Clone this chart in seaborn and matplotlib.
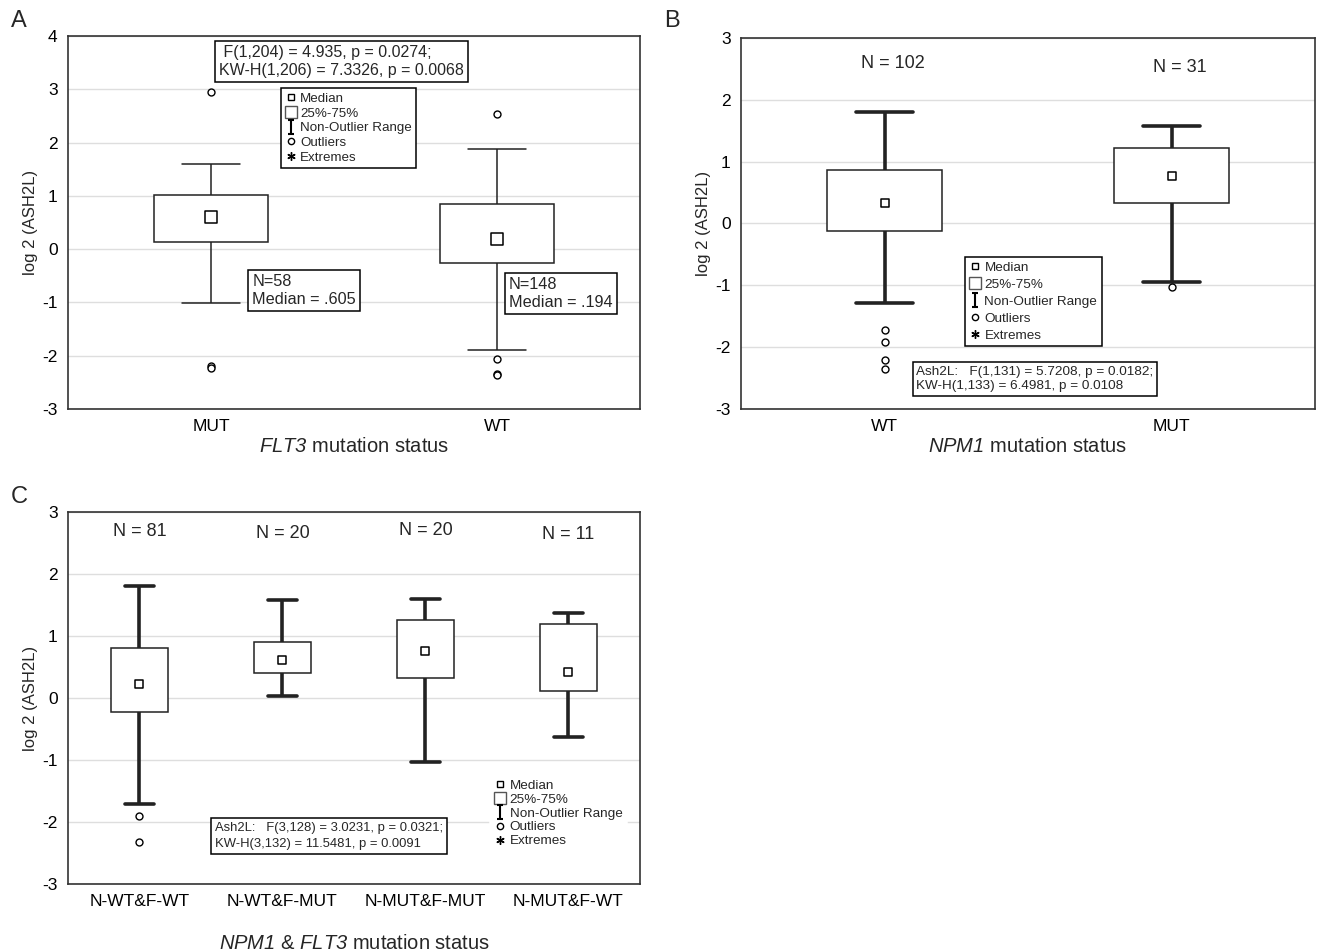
import matplotlib
matplotlib.use("Agg")
import matplotlib.pyplot as plt
import seaborn as sns
import numpy as np
import pandas as pd
from matplotlib.lines import Line2D
from matplotlib.path import Path

# ---- panel A: FLT3 ----
a_cats = ["MUT", "WT"]
a_lo = [-1.02, -1.90]
a_q1 = [0.13, -0.26]
a_med = [0.605, 0.194]
a_q3 = [1.01, 0.85]
a_hi = [1.60, 1.88]
a_out_cat = ["MUT", "MUT", "MUT", "WT", "WT", "WT", "WT"]
a_out_val = [2.95, -2.20, -2.24, 2.53, -2.07, -2.35, -2.37]

# ---- panel B: NPM1 ----
b_cats = ["WT", "MUT"]
b_lo = [-1.28, -0.95]
b_q1 = [-0.12, 0.33]
b_med = [0.33, 0.76]
b_q3 = [0.87, 1.22]
b_hi = [1.80, 1.58]
b_n = ["N = 102", "N = 31"]
b_n_y = [2.58, 2.52]
b_out_cat = ["WT", "WT", "WT", "WT", "MUT"]
b_out_val = [-1.72, -1.92, -2.20, -2.35, -1.02]

# ---- panel C: NPM1 & FLT3 ----
c_cats = ["N-WT&F-WT", "N-WT&F-MUT", "N-MUT&F-MUT", "N-MUT&F-WT"]
c_lo = [-1.71, 0.03, -1.03, -0.63]
c_q1 = [-0.22, 0.40, 0.33, 0.11]
c_med = [0.22, 0.62, 0.76, 0.42]
c_q3 = [0.80, 0.90, 1.25, 1.20]
c_hi = [1.80, 1.58, 1.60, 1.37]
c_n = ["N = 81", "N = 20", "N = 20", "N = 11"]
c_n_y = [2.68, 2.66, 2.70, 2.64]
c_out_cat = ["N-WT&F-WT", "N-WT&F-WT"]
c_out_val = [-1.91, -2.33]

sns.set_style("white")
plt.rcParams["font.family"] = ["Liberation Sans", "DejaVu Sans"]
plt.rcParams["axes.unicode_minus"] = False
plt.rcParams["mathtext.fontset"] = "custom"
plt.rcParams["mathtext.sf"] = "Liberation Sans:italic"
plt.rcParams["mathtext.rm"] = "Liberation Sans"

IBEAM = Path([(-0.5, 1), (0.5, 1), (0, 1), (0, -1), (-0.5, -1), (0.5, -1)],
             [Path.MOVETO, Path.LINETO, Path.MOVETO, Path.LINETO, Path.MOVETO, Path.LINETO])


def summary_frame(cats, lo, q1, med, q3, hi):
    rows = []
    for i, c in enumerate(cats):
        for v in (lo[i], q1[i], med[i], q3[i], hi[i]):
            rows.append({"group": c, "value": v})
    return pd.DataFrame(rows)


def box_panel(ax, cats, lo, q1, med, q3, hi, out_cat, out_val, ylim, wlw, msize):
    df = summary_frame(cats, lo, q1, med, q3, hi)
    sns.boxplot(data=df, x="group", y="value", order=cats, whis=(0, 100), width=0.4,
                showfliers=False, color="white", linecolor="#222222", linewidth=1.1,
                whiskerprops=dict(linewidth=wlw), capprops=dict(linewidth=wlw),
                medianprops=dict(visible=False), ax=ax)
    sns.stripplot(x=cats, y=med, order=cats, jitter=False, marker="s", color="white",
                  edgecolor="black", linewidth=1.1, size=msize, zorder=4, ax=ax)
    sns.stripplot(x=out_cat, y=out_val, order=cats, jitter=False, marker="o", color="white",
                  edgecolor="black", linewidth=1.0, size=5, zorder=4, ax=ax)
    ax.set_xlim(-0.5, len(cats) - 0.5)
    ax.set_ylim(*ylim)
    ax.set_yticks(range(ylim[0], ylim[1] + 1))
    ax.yaxis.grid(True, color="#dedede", lw=1)
    ax.set_axisbelow(True)
    for s in ax.spines.values():
        s.set_color("#333333")
        s.set_linewidth(1.2)
    ax.tick_params(axis="both", labelsize=12.5, length=4, direction="out", colors="black")
    ax.set_ylabel("log 2 (ASH2L)", fontsize=12, labelpad=3)


def legend(ax, x, y, frame=True, fs=10, spacing=0.22, msize=6):
    handles = [
        Line2D([], [], ls="", marker="s", mfc="white", mec="black", ms=msize - 1),
        Line2D([], [], ls="", marker="s", mfc="white", mec="#555555", ms=msize + 3),
        Line2D([], [], ls="", marker=IBEAM, mec="black", ms=msize + 4, mew=1.5),
        Line2D([], [], ls="", marker="o", mfc="white", mec="black", ms=msize - 1.5),
        Line2D([], [], ls="", marker=(6, 2, 0), mec="black", ms=msize, mew=1),
    ]
    labels = ["Median", "25%-75%", "Non-Outlier Range", "Outliers", "Extremes"]
    leg = ax.legend(handles, labels, loc="upper left", bbox_to_anchor=(x, y),
                    fontsize=fs, frameon=True, fancybox=False, framealpha=1,
                    edgecolor="black" if frame else "white", borderpad=0.35,
                    labelspacing=spacing, handlelength=0.8, handletextpad=0.3,
                    borderaxespad=0)
    leg.get_frame().set_linewidth(1.1)
    leg.set_zorder(5)


def textbox(ax, x, y, s, fs, ls=1.25, pad=0.25):
    ax.text(x, y, s, transform=ax.transAxes, ha="left", va="top", fontsize=fs, zorder=6,
            linespacing=ls,
            bbox=dict(boxstyle="square,pad=%s" % pad, fc="white", ec="black", lw=1.1))


fig = plt.figure(figsize=(13.2, 9.52), dpi=100)
axA = fig.add_axes([0.0515, 0.5704, 0.4333, 0.3918])
axB = fig.add_axes([0.5614, 0.5704, 0.4348, 0.3897])
axC = fig.add_axes([0.0515, 0.0714, 0.4333, 0.3908])

# A
box_panel(axA, a_cats, a_lo, a_q1, a_med, a_q3, a_hi, a_out_cat, a_out_val, (-3, 4), 1.1, 8)
axA.set_xlabel(r"$\mathsf{FLT3}$ mutation status", fontsize=14.5, labelpad=2)
textbox(axA, 0.264, 0.976, " F(1,204) = 4.935, p = 0.0274;\nKW-H(1,206) = 7.3326, p = 0.0068", 11.5)
textbox(axA, 0.322, 0.363, "N=58\nMedian = .605", 11.7, ls=1.3)
textbox(axA, 0.771, 0.355, "N=148\nMedian = .194", 11.7, ls=1.3)
legend(axA, 0.372, 0.861, fs=9.6, spacing=0.18)

# B
box_panel(axB, b_cats, b_lo, b_q1, b_med, b_q3, b_hi, b_out_cat, b_out_val, (-3, 3), 2.6, 6)
axB.set_xlabel(r"$\mathsf{NPM1}$ mutation status", fontsize=14.5, labelpad=2)
for i, t in enumerate(b_n):
    axB.text(i + 0.03, b_n_y[i], t, ha="center", va="center", fontsize=13)
textbox(axB, 0.305, 0.117, "Ash2L:   F(1,131) = 5.7208, p = 0.0182;\nKW-H(1,133) = 6.4981, p = 0.0108", 9.7, ls=1.3)
legend(axB, 0.39, 0.41, fs=9.7, spacing=0.33)

# C
box_panel(axC, c_cats, c_lo, c_q1, c_med, c_q3, c_hi, c_out_cat, c_out_val, (-3, 3), 2.6, 6)
axC.set_xlabel(r"$\mathsf{NPM1}$ & $\mathsf{FLT3}$ mutation status", fontsize=14.5, labelpad=18)
for i, t in enumerate(c_n):
    axC.text(i, c_n_y[i], t, ha="center", va="center", fontsize=13)
textbox(axC, 0.257, 0.168, "Ash2L:   F(3,128) = 3.0231, p = 0.0321;\nKW-H(3,132) = 11.5481, p = 0.0091", 9.4, ls=1.5, pad=0.3)
legend(axC, 0.738, 0.293, frame=False, fs=9.7, spacing=0.1)

fig.text(0.008, 0.978, "A", fontsize=17, va="center")
fig.text(0.503, 0.978, "B", fontsize=17, va="center")
fig.text(0.008, 0.478, "C", fontsize=17, va="center")

fig.savefig("out.png", dpi=100)
